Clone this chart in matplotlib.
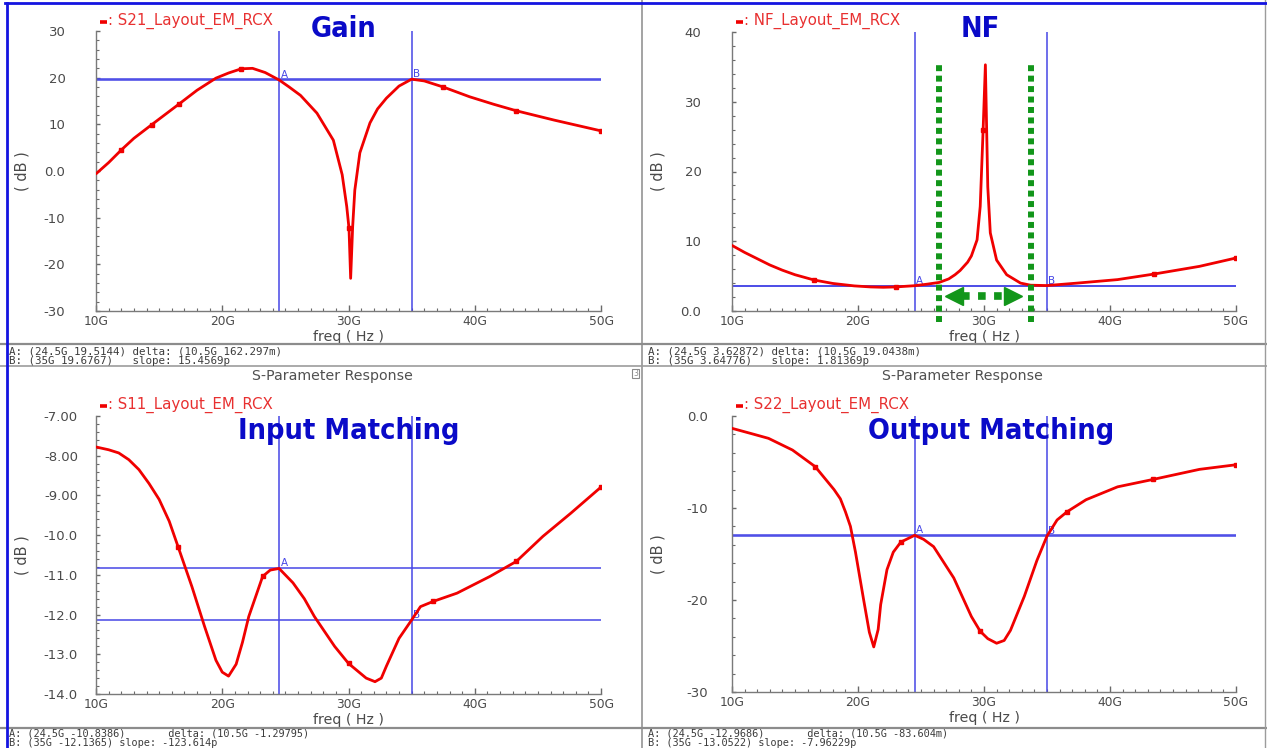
import matplotlib
matplotlib.use("Agg")
import matplotlib.pyplot as plt
from matplotlib import font_manager
from matplotlib.font_manager import FontProperties
from matplotlib.ticker import MultipleLocator
from matplotlib.lines import Line2D
from matplotlib.transforms import offset_copy

# ---------------------------------------------------------------- data (GHz, dB)
freq_ticks = [10, 20, 30, 40, 50]
freq_labels = ["10G", "20G", "30G", "40G", "50G"]
marker_a_freq = 24.5
marker_b_freq = 35.0

# S21 (gain)
s21_freq = [10, 11, 12, 13, 14.4, 16.6, 18, 19.5, 20.5, 21.5, 22.4, 23.4, 24.5,
            25.3, 26.2, 27.5, 28.8, 29.5, 29.86, 30.04, 30.17, 30.33, 30.5, 30.9,
            31.7, 32.3, 33.0, 34.0, 35.0, 36.0, 37.5, 39.6, 41.5, 43.3, 46.3, 50]
s21_db = [-0.6, 1.8, 4.5, 7.0, 9.9, 14.4, 17.3, 19.9, 21.0, 21.9, 22.0, 21.1, 19.5144,
          18.0, 16.2, 12.4, 6.6, -0.8, -7.6, -12.3, -23.0, -11.9, -4.1, 3.9,
          10.3, 13.3, 15.6, 18.2, 19.6767, 19.3, 18.0, 15.9, 14.3, 12.9, 10.9, 8.6]
s21_marks = [2, 4, 5, 9, 19, 30, 33, 35]

# Noise figure
nf_freq = [10, 11, 12, 13, 14, 15, 16.5, 18, 19.7, 21, 22, 23, 24.5, 25.5, 26.45,
           27.2, 27.7, 28.1, 28.7, 29.0, 29.45, 29.7, 29.93, 30.11, 30.3, 30.5,
           31.0, 31.8, 32.9, 33.7, 35, 37.4, 40.6, 43.5, 47.1, 50]
nf_db = [9.4, 8.4, 7.5, 6.6, 5.85, 5.2, 4.45, 3.95, 3.6, 3.45, 3.4, 3.45, 3.62872,
         3.85, 4.1, 4.6, 5.2, 5.8, 7.0, 7.9, 10.2, 15.0, 26.0, 35.3, 17.8, 11.2,
         7.3, 5.2, 4.0, 3.7, 3.64776, 4.0, 4.5, 5.3, 6.4, 7.6]
nf_marks = [6, 11, 22, 33, 35]

# S11 (input matching)
s11_freq = [10, 11, 11.8, 12.6, 13.4, 14.2, 15.0, 15.8, 16.5, 17.6, 18.6, 19.5, 20.0,
            20.5, 21.1, 21.6, 22.1, 23.2, 23.8, 24.5, 25.6, 26.5, 27.3, 28.9, 30.0,
            31.4, 32.1, 32.6, 33.0, 34.0, 35.0, 35.7, 36.7, 38.6, 41.2, 43.3, 45.4,
            47.6, 50]
s11_db = [-7.78, -7.85, -7.93, -8.1, -8.35, -8.7, -9.1, -9.65, -10.29, -11.3, -12.3,
          -13.15, -13.45, -13.55, -13.25, -12.7, -12.05, -11.04, -10.88, -10.8386,
          -11.2, -11.6, -12.05, -12.8, -13.23, -13.6, -13.69, -13.6, -13.3, -12.6,
          -12.1365, -11.8, -11.67, -11.46, -11.04, -10.66, -10.03, -9.45, -8.79]
s11_marks = [8, 17, 24, 32, 35, 38]

# S22 (output matching)
s22_freq = [10, 11.5, 12.9, 14.8, 16.6, 18.1, 18.6, 19.0, 19.4, 19.8, 20.45, 20.9,
            21.25, 21.6, 21.8, 22.3, 22.8, 23.4, 24.5, 25.2, 26.0, 27.6, 29.0, 29.7,
            30.3, 31.0, 31.6, 32.1, 33.2, 34.2, 35.0, 35.8, 36.6, 38.1, 40.6, 43.4,
            47.1, 50]
s22_db = [-1.34, -1.9, -2.43, -3.7, -5.5, -8.0, -9.0, -10.4, -12.0, -14.8, -20.0,
          -23.5, -25.1, -23.2, -20.5, -16.7, -14.8, -13.7, -12.9686, -13.4, -14.2,
          -17.6, -21.8, -23.4, -24.2, -24.7, -24.4, -23.3, -19.6, -15.7, -13.0522,
          -11.3, -10.4, -9.1, -7.7, -6.9, -5.8, -5.3]
s22_marks = [4, 17, 23, 32, 35, 37]

# y axes
s21_yticks = [-30, -20, -10, 0, 10, 20, 30]
s21_ylabels = ["-30", "-20", "-10", "0.0", "10", "20", "30"]
nf_yticks = [0, 10, 20, 30, 40]
nf_ylabels = ["0.0", "10", "20", "30", "40"]
s11_yticks = [-14, -13, -12, -11, -10, -9, -8, -7]
s11_ylabels = ["-14.0", "-13.0", "-12.0", "-11.0", "-10.0", "-9.00", "-8.00", "-7.00"]
s22_yticks = [-30, -20, -10, 0]
s22_ylabels = ["-30", "-20", "-10", "0.0"]

# marker readouts
s21_readout = ["A: (24.5G 19.5144) delta: (10.5G 162.297m)",
               "B: (35G 19.6767)   slope: 15.4569p"]
nf_readout = ["A: (24.5G 3.62872) delta: (10.5G 19.0438m)",
              "B: (35G 3.64776)   slope: 1.81369p"]
s11_readout = ["A: (24.5G -10.8386)       delta: (10.5G -1.29795)",
               "B: (35G -12.1365) slope: -123.614p"]
s22_readout = ["A: (24.5G -12.9686)       delta: (10.5G -83.604m)",
               "B: (35G -13.0522) slope: -7.96229p"]

# noise-figure band highlight (GHz / dB)
nf_band = [26.45, 33.7]
nf_band_span = [-1.6, 35.8]
nf_arrow_tips = [26.9, 33.05]
nf_arrow_level = 2.15

# ---------------------------------------------------------------- styling
W, H = 1267, 748
TRACE = "#f00000"
MARK_BLUE = "#4646e6"
TITLE_BLUE = "#0a0ac8"
GREEN = "#12961a"
GREY_TXT = "#4a4a4a"
FRAME_GREY = "#9c9c9c"


def _is_bold(entry):
    w = entry.weight
    if isinstance(w, str):
        return w.lower() in ("bold", "heavy", "extra bold", "black", "semibold", "demibold")
    return w >= 600


def title_font():
    """Bold narrow face for the big panel captions (falls back to a regular bold sans)."""
    entries = [e for e in font_manager.fontManager.ttflist
               if _is_bold(e) and e.style == "normal"]
    for want in ("Liberation Sans Narrow", "Arial Narrow"):
        for e in entries:
            if e.name == want:
                return FontProperties(fname=e.fname)
    for stretch in ("condensed", "semi-condensed", "extra-condensed"):
        for e in entries:
            if str(e.stretch) == stretch:
                return FontProperties(fname=e.fname)
    return FontProperties(family=["Liberation Sans", "DejaVu Sans"], weight="bold")


TITLE_PROPS = title_font()

fig = plt.figure(figsize=(W / 100, H / 100), dpi=100)
fig.patch.set_facecolor("white")


def fx(x):
    return x / W


def fy(y):
    return 1 - y / H


def ftext(x, y, s, **kw):
    return fig.text(fx(x), fy(y), s, **kw)


def fline(xs, ys, **kw):
    fig.add_artist(Line2D([fx(v) for v in xs], [fy(v) for v in ys],
                          transform=fig.transFigure, **kw))


def add_axes_px(x0, y0, x1, y1):
    return fig.add_axes([fx(x0), fy(y1), (x1 - x0) / W, (y1 - y0) / H])


def fitted_size(text, props, target_px, probe=20.0):
    """Font size at which `text` spans `target_px` pixels."""
    t = fig.text(0, 0, text, fontproperties=props, fontsize=probe)
    w = t.get_window_extent(fig.canvas.get_renderer()).width
    t.remove()
    return probe * target_px / w


def draw_panel(ax, f, v, ylim, yticks, ylabels, yminor, ypad, marks, hvals):
    ax.set_xlim(10, 50)
    ax.set_ylim(*ylim)
    ax.set_facecolor("none")
    for s in ("top", "right"):
        ax.spines[s].set_visible(False)
    for s in ("left", "bottom"):
        ax.spines[s].set_color("#7a7a7a")
        ax.spines[s].set_linewidth(1.0)
    ax.set_xticks(freq_ticks)
    ax.set_xticklabels(freq_labels)
    ax.xaxis.set_minor_locator(MultipleLocator(1))
    ax.set_yticks(yticks)
    ax.set_yticklabels(ylabels)
    ax.yaxis.set_minor_locator(MultipleLocator(yminor))
    ax.tick_params(which="both", direction="in", color="#6a6a6a", labelcolor=GREY_TXT)
    ax.tick_params(axis="x", which="major", length=4, width=1.0, pad=3, labelsize=8.8)
    ax.tick_params(axis="x", which="minor", length=2, width=0.8)
    ax.tick_params(axis="y", which="major", length=3, width=1.0, pad=ypad, labelsize=9.5)
    ax.tick_params(axis="y", which="minor", length=1.8, width=0.8)
    ax.set_xlabel("freq ( Hz )", color=GREY_TXT, fontsize=10.2, labelpad=1.5)

    # A / B markers
    ax.axvline(marker_a_freq, color=MARK_BLUE, lw=1.1, zorder=2)
    ax.axvline(marker_b_freq, color=MARK_BLUE, lw=1.1, zorder=2)
    for val in hvals:
        ax.axhline(val, color=MARK_BLUE, lw=1.1, zorder=2)
    for name, xf, yv in (("A", marker_a_freq, hvals[0]), ("B", marker_b_freq, hvals[1])):
        ax.annotate(name, (xf, yv), xytext=(1, 0), textcoords="offset points",
                    color=MARK_BLUE, fontsize=7.5, va="bottom", ha="left", zorder=3)

    ax.plot(f, v, color=TRACE, lw=2.0, solid_joinstyle="round",
            solid_capstyle="round", marker="s", ms=3.2, markevery=marks,
            zorder=5)


# axes boxes in pixel coordinates
ax_gain = add_axes_px(96, 31, 601, 311)
ax_nf = add_axes_px(732, 32, 1236, 311)
ax_s11 = add_axes_px(96, 416, 601, 694)
ax_s22 = add_axes_px(732, 416, 1236, 692)

draw_panel(ax_gain, s21_freq, s21_db, (-30, 30), s21_yticks, s21_ylabels, 2, 22,
           s21_marks, [s21_db[12], s21_db[28]])
draw_panel(ax_nf, nf_freq, nf_db, (0, 40), nf_yticks, nf_ylabels, 2, 22,
           nf_marks, [nf_db[12], nf_db[30]])
draw_panel(ax_s11, s11_freq, s11_db, (-14, -7), s11_yticks, s11_ylabels, 0.2, 13,
           s11_marks, [s11_db[19], s11_db[30]])
draw_panel(ax_s22, s22_freq, s22_db, (-30, 0), s22_yticks, s22_ylabels, 2, 17,
           s22_marks, [s22_db[18], s22_db[30]])

# "( dB )" axis titles
for xpx, ypx in [(22, 171), (658, 171), (22, 555), (658, 554)]:
    ftext(xpx, ypx, "( dB )", rotation=90, ha="center", va="center",
          color=GREY_TXT, fontsize=10.5)

# trace legends
for xpx, ypx, name in [(100, 21, "S21_Layout_EM_RCX"), (736, 21, "NF_Layout_EM_RCX"),
                       (100, 405, "S11_Layout_EM_RCX"), (736, 405, "S22_Layout_EM_RCX")]:
    fline([xpx, xpx + 7], [ypx + 1, ypx + 1], color=TRACE, lw=2.6,
          solid_capstyle="butt")
    ftext(xpx + 8, ypx, ": " + name, ha="left", va="center", color="#e83030",
          fontsize=10.8)

# panel titles, sized so that "Input Matching" spans about 222 px
title_size = fitted_size("Input Matching", TITLE_PROPS, 222)
for xpx, ypx, label in [(344, 29, "Gain"), (980, 29, "NF"),
                        (349, 431, "Input Matching"), (991, 431, "Output Matching")]:
    ftext(xpx, ypx, label, ha="center", va="center", color=TITLE_BLUE,
          fontproperties=TITLE_PROPS, fontsize=title_size)

# noise-figure band: dotted green verticals and a double arrow
for xb in nf_band:
    ax_nf.plot([xb, xb], nf_band_span, color=GREEN, lw=4.3,
               linestyle=(0, (1, 0.75)), dash_capstyle="butt", clip_on=False,
               zorder=6)
shaft = [nf_arrow_tips[0] + 1.35, nf_arrow_tips[1] - 1.35]
ax_nf.plot(shaft, [nf_arrow_level] * 2, color=GREEN, lw=5.5,
           linestyle=(0, (1, 1.1)), dash_capstyle="butt", zorder=6)
ms_head = 13
ax_nf.plot([nf_arrow_tips[0]], [nf_arrow_level], marker="<", ms=ms_head,
           color=GREEN, mec=GREEN, zorder=7,
           transform=offset_copy(ax_nf.transData, fig=fig, x=ms_head / 2, units="points"))
ax_nf.plot([nf_arrow_tips[1]], [nf_arrow_level], marker=">", ms=ms_head,
           color=GREEN, mec=GREEN, zorder=7,
           transform=offset_copy(ax_nf.transData, fig=fig, x=-ms_head / 2, units="points"))

# window frame: separators, readout strips, window titles
fline([642, 642], [0, 748], color=FRAME_GREY, lw=1.3)
fline([0, 1267], [344, 344], color="#8c8c8c", lw=1.6)
fline([0, 1267], [366, 366], color=FRAME_GREY, lw=1.2)
fline([0, 1267], [728, 728], color="#8c8c8c", lw=1.6)
fline([1265, 1265], [0, 748], color=FRAME_GREY, lw=1.0)
fline([5, 1267], [3, 3], color="#1414e0", lw=2.0)
fline([7, 7], [3, 748], color="#1414e0", lw=2.0)

# two-line marker readouts (one text object each, tight line spacing)
for xpx, ypx, lines in [(9, 346, s21_readout), (648, 346, nf_readout)]:
    ftext(xpx, ypx, "\n".join(lines), ha="left", va="top", color="#3c3c3c",
          fontsize=7.8, family="DejaVu Sans Mono", linespacing=0.95)
for xpx, ypx, lines in [(9, 747.5, s11_readout), (648, 747.5, s22_readout)]:
    ftext(xpx, ypx, "\n".join(lines), ha="left", va="bottom", color="#3c3c3c",
          fontsize=7.4, family="DejaVu Sans Mono", linespacing=0.86)

ftext(332, 376, "S-Parameter Response", ha="center", va="center",
      color="#505050", fontsize=10.2)
ftext(962, 376, "S-Parameter Response", ha="center", va="center",
      color="#505050", fontsize=10.2)
fig.patches.append(plt.Rectangle((fx(632), fy(378)), 7 / W, 9 / H,
                                 transform=fig.transFigure, fill=False,
                                 edgecolor="#8a8a8a", lw=0.8))
ftext(635.5, 373.5, "3", ha="center", va="center", color="#8a8a8a", fontsize=5.5)

fig.savefig("out.png", dpi=100, facecolor="white")
